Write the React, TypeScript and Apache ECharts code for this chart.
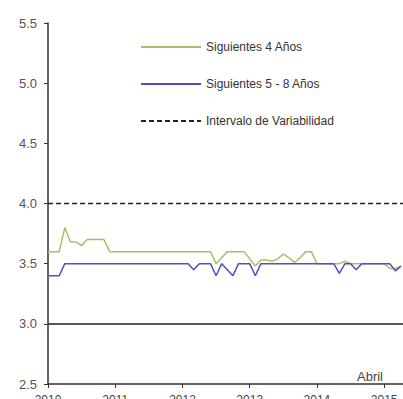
import React, { useEffect, useRef } from "react";
import * as echarts from "echarts";

const startYear = 2010;
const yearTicks = [2010, 2011, 2012, 2013, 2014, 2015];
const yTicks = [2.5, 3.0, 3.5, 4.0, 4.5, 5.0, 5.5];

// Monthly values, Jan 2010 .. Apr 2015
const siguientes4 = [
  3.6, 3.6, 3.6, 3.8, 3.68, 3.68, 3.65, 3.7, 3.7, 3.7, 3.7, 3.6,
  3.6, 3.6, 3.6, 3.6, 3.6, 3.6, 3.6, 3.6, 3.6, 3.6, 3.6, 3.6,
  3.6, 3.6, 3.6, 3.6, 3.6, 3.6, 3.5, 3.55, 3.6, 3.6, 3.6, 3.6,
  3.54, 3.48, 3.53, 3.53, 3.52, 3.54, 3.58, 3.55, 3.51, 3.55, 3.6, 3.6,
  3.5, 3.5, 3.5, 3.5, 3.5, 3.52, 3.5, 3.5, 3.5, 3.5, 3.5, 3.5,
  3.5, 3.46, 3.46, 3.48,
];
const siguientes58 = [
  3.4, 3.4, 3.4, 3.5, 3.5, 3.5, 3.5, 3.5, 3.5, 3.5, 3.5, 3.5,
  3.5, 3.5, 3.5, 3.5, 3.5, 3.5, 3.5, 3.5, 3.5, 3.5, 3.5, 3.5,
  3.5, 3.5, 3.45, 3.5, 3.5, 3.5, 3.4, 3.5, 3.45, 3.4, 3.5, 3.5,
  3.5, 3.4, 3.5, 3.5, 3.5, 3.5, 3.5, 3.5, 3.5, 3.5, 3.5, 3.5,
  3.5, 3.5, 3.5, 3.5, 3.42, 3.5, 3.5, 3.45, 3.5, 3.5, 3.5, 3.5,
  3.5, 3.5, 3.44, 3.48,
];
const intervaloSuperior = 4.0;
const intervaloInferior = 3.0;

const toYear = (i: number) => startYear + i / 12;

export default function App() {
  const ref = useRef<HTMLDivElement>(null);
  useEffect(() => {
    if (!ref.current) return;
    const chart = echarts.init(ref.current, null, { renderer: "svg" });
    const font = "Liberation Sans";
    chart.setOption({
      animation: false,
      backgroundColor: "#ffffff",
      grid: {
        left: 48,
        right: 0,
        top: 23,
        bottom: 15,
        containLabel: false,
        outerBoundsMode: "none",
      },
      legend: {
        orient: "vertical",
        left: 135,
        top: 36,
        itemWidth: 60,
        itemHeight: 14,
        itemGap: 25,
        itemStyle: { opacity: 0 },
        textStyle: { fontFamily: font, fontSize: 12, color: "#333" },
        data: ["Siguientes 4 Años", "Siguientes 5 - 8 Años", "Intervalo de Variabilidad"],
      },
      xAxis: {
        type: "value",
        min: 2010,
        max: 2015.28,
        interval: 1,
        axisLine: { show: true, onZero: false, lineStyle: { color: "#333", width: 1.5 } },
        axisTick: { show: true, length: 4, customValues: yearTicks, lineStyle: { color: "#333" } },
        axisLabel: {
          customValues: yearTicks,
          margin: 10,
          fontFamily: font,
          fontSize: 12,
          color: "#444",
          formatter: (v: number) => String(Math.round(v)),
        },
        splitLine: { show: false },
      },
      yAxis: {
        type: "value",
        min: 2.5,
        max: 5.5,
        interval: 0.5,
        axisLine: { show: true, lineStyle: { color: "#333", width: 1.5 } },
        axisTick: { show: true, length: 4, lineStyle: { color: "#333" } },
        axisLabel: {
          margin: 11,
          fontFamily: font,
          fontSize: 13,
          color: "#555",
          formatter: (v: number) => (yTicks.includes(v) ? v.toFixed(1) : ""),
        },
        splitLine: { show: false },
      },
      graphic: [
        {
          type: "text",
          left: 357,
          top: 370,
          style: { text: "Abril", fontFamily: font, fontSize: 13, fill: "#444" },
        },
      ],
      series: [
        {
          name: "Siguientes 4 Años",
          type: "line",
          symbol: "none",
          color: "#a8bf6a",
          lineStyle: { color: "#a8bf6a", width: 1.5 },
          data: siguientes4.map((v, i) => [toYear(i), v]),
          z: 3,
        },
        {
          name: "Siguientes 5 - 8 Años",
          type: "line",
          symbol: "none",
          color: "#4d50c2",
          lineStyle: { color: "#4d50c2", width: 1.5 },
          data: siguientes58.map((v, i) => [toYear(i), v]),
          z: 4,
        },
        {
          name: "Intervalo de Variabilidad",
          type: "line",
          symbol: "none",
          color: "#222",
          lineStyle: { color: "#222", width: 1.3, type: [5, 3] },
          data: [],
          markLine: {
            silent: true,
            symbol: "none",
            label: { show: false },
            lineStyle: { color: "#222", width: 1.3, type: [5, 3] },
            data: [{ yAxis: intervaloSuperior }],
          },
        },
        {
          name: "Límite inferior",
          type: "line",
          symbol: "none",
          color: "#222",
          data: [],
          markLine: {
            silent: true,
            symbol: "none",
            label: { show: false },
            lineStyle: { color: "#222", width: 1.5, type: "solid" },
            data: [{ yAxis: intervaloInferior }],
          },
        },
      ],
    });
    return () => chart.dispose();
  }, []);
  return (
    <div
      ref={ref}
      style={{ position: "absolute", left: 0, top: 0, width: 403, height: 399 }}
    />
  );
}
